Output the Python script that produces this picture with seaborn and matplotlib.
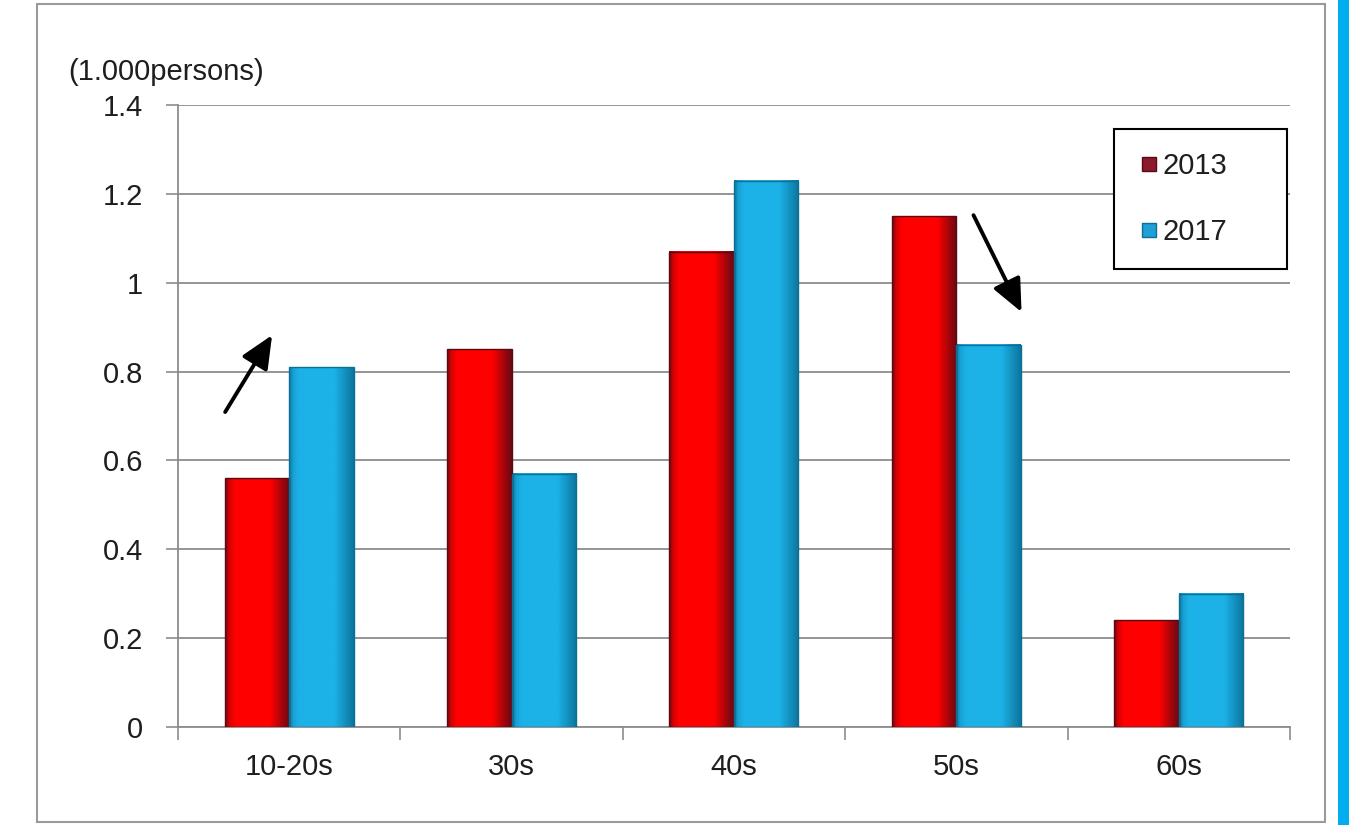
import numpy as np
import pandas as pd
import matplotlib
matplotlib.use("Agg")
import matplotlib.pyplot as plt
import matplotlib.colors as mcolors
from matplotlib.patches import Rectangle
from matplotlib.lines import Line2D
import seaborn as sns

# --- data -------------------------------------------------------------
age_groups = ["10-20s", "30s", "40s", "50s", "60s"]
years = ["2013", "2017"]
values_2013 = [0.56, 0.85, 1.07, 1.15, 0.24]
values_2017 = [0.81, 0.57, 1.23, 0.86, 0.30]
y_ticks = [0, 0.2, 0.4, 0.6, 0.8, 1.0, 1.2, 1.4]
y_tick_labels = ["0", "0.2", "0.4", "0.6", "0.8", "1", "1.2", "1.4"]
unit_label = "(1.000persons)"

df = pd.DataFrame({
    "age": age_groups * 2,
    "year": [years[0]] * len(age_groups) + [years[1]] * len(age_groups),
    "value": values_2013 + values_2017,
})

colors = {"2013": "#ff0000", "2017": "#1cb2e8"}
edge_colors = {"2013": "#5a0a14", "2017": "#0b6f96"}
text_color = "#1e1e1e"
fs = 21

sns.set_theme(style="white")
plt.rcParams["font.family"] = ["Liberation Sans", "DejaVu Sans"]

fig = plt.figure(figsize=(13.6, 8.25), dpi=100)
ax = fig.add_axes([0.1309, 0.1188, 0.8176, 0.7539])

sns.barplot(data=df, x="age", y="value", hue="year", order=age_groups,
            hue_order=years, palette=colors, width=0.58, gap=0,
            edgecolor="none", linewidth=0, legend=False, ax=ax, zorder=3)

# Cylinder-like shading on each bar
def shade_cmap(base, dark):
    b = np.array(mcolors.to_rgb(base))
    d = np.array(mcolors.to_rgb(dark))
    pos = np.linspace(0, 1, 64)
    w = np.interp(pos, [0, 0.06, 0.15, 0.7, 0.85, 1.0], [0.85, 0.25, 0.0, 0.0, 0.45, 0.9])
    return (b[None, :] * (1 - w[:, None]) + d[None, :] * w[:, None])[None, :, :]

for cont, yr in zip(ax.containers, years):
    img = shade_cmap(colors[yr], edge_colors[yr])
    for p in cont.patches:
        x0, y0 = p.get_x(), p.get_y()
        w, h = p.get_width(), p.get_height()
        ax.imshow(img, extent=[x0, x0 + w, y0, y0 + h], aspect="auto",
                  interpolation="bilinear", zorder=4)
        ax.add_patch(Rectangle((x0, y0), w, h, fill=False,
                               edgecolor=edge_colors[yr], linewidth=1.0, zorder=5))

ax.set_xlim(-0.5, len(age_groups) - 0.5)
ax.set_ylim(0, 1.4)

# y axis
ax.set_yticks(y_ticks)
ax.set_yticklabels(y_tick_labels)
ax.yaxis.grid(True, color="#8c8c8c", linewidth=1.3, zorder=0)
ax.set_axisbelow(True)

# x axis: ticks at group boundaries, labels at group centres
ax.set_xticks(np.arange(-0.5, len(age_groups), 1.0))
ax.set_xticklabels([""] * (len(age_groups) + 1))
ax.set_xticks(np.arange(len(age_groups)), minor=True)
ax.set_xticklabels(age_groups, minor=True)
ax.tick_params(axis="x", which="major", direction="out", length=9, width=1.2,
               color="#8c8c8c", bottom=True)
ax.tick_params(axis="x", which="minor", length=0, pad=19, labelsize=fs,
               labelcolor=text_color)
ax.tick_params(axis="y", direction="out", length=9, width=1.2, color="#8c8c8c",
               left=True, pad=16, labelsize=fs, labelcolor=text_color)
ax.set_xlabel("")
ax.set_ylabel("")

for side in ["top", "right"]:
    ax.spines[side].set_visible(False)
for side in ["left", "bottom"]:
    ax.spines[side].set_color("#8c8c8c")
    ax.spines[side].set_linewidth(1.3)

# legend
handles = [Line2D([], [], marker="s", linestyle="none", markersize=10,
                  markerfacecolor="#8a1a2c", markeredgecolor="#5a0a14"),
           Line2D([], [], marker="s", linestyle="none", markersize=10,
                  markerfacecolor="#1f9fd6", markeredgecolor="#0b6f96")]
leg = ax.legend(handles, years, loc="upper left",
                bbox_to_anchor=(0.842, 0.0, 0.155, 0.962), mode="expand",
                frameon=True, fancybox=False, edgecolor="black", framealpha=1,
                fontsize=fs, handlelength=0.75, handletextpad=0.1,
                labelspacing=1.3, borderpad=0.8, borderaxespad=0)
leg.get_frame().set_linewidth(1.5)
leg.set_zorder(10)
for t in leg.get_texts():
    t.set_color(text_color)

# trend arrows
arrow_kw = dict(arrowstyle="-|>,head_length=1.0,head_width=0.45", color="black",
                lw=2.8, mutation_scale=20, shrinkA=0, shrinkB=0)
ax.annotate("", xy=(-0.077, 0.882), xytext=(-0.288, 0.709),
            arrowprops=arrow_kw, zorder=8)
ax.annotate("", xy=(3.293, 0.934), xytext=(3.077, 1.152),
            arrowprops=arrow_kw, zorder=8)

# unit label
fig.text(0.05, 0.913, unit_label, fontsize=fs, color=text_color,
         ha="left", va="center")

# outer frame and accent strip
fig.patches.append(Rectangle((0.0272, 0.004), 0.947, 0.991, transform=fig.transFigure,
                             fill=False, edgecolor="#9a9a9a", linewidth=1.5))
fig.patches.append(Rectangle((0.9838, 0.0), 0.0081, 1.0, transform=fig.transFigure,
                             facecolor="#00aeef", edgecolor="none"))

fig.savefig("out.png", dpi=100)
